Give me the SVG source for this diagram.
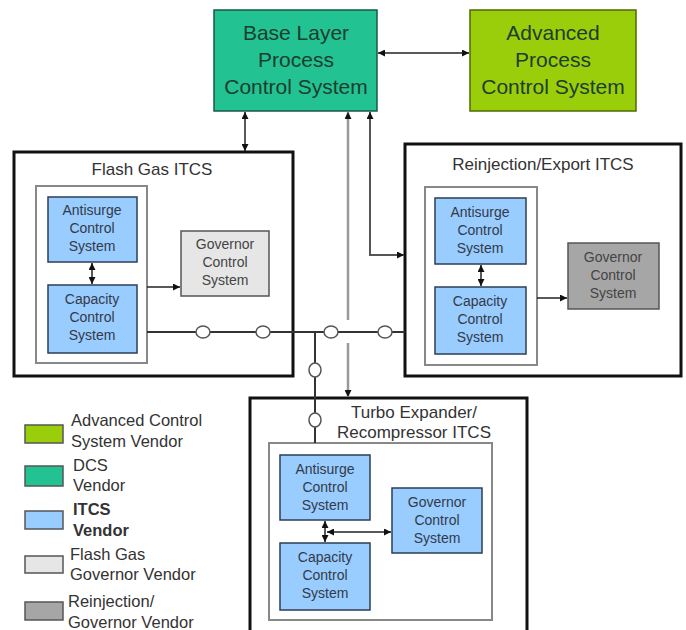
<svg xmlns="http://www.w3.org/2000/svg" width="686" height="630" viewBox="0 0 686 630">
<style>
text{font-family:"Liberation Sans",Arial,sans-serif;text-anchor:middle;fill:#2a2a2a}
.big{font-size:21px;fill:#1d3d2d}
.title{font-size:17px;fill:#333}
.sm{font-size:14px;fill:#333a48}
.leg{font-size:16.5px;text-anchor:start;fill:#333}
.outer{fill:#fff;stroke:#111;stroke-width:3}
.inner{fill:#fff;stroke:#888;stroke-width:2}
.blue{fill:#99ccff;stroke:#2c3e55;stroke-width:1.5}
.ln{fill:none;stroke:#222;stroke-width:1.5}
.bus{fill:none;stroke:#333;stroke-width:2}
.circ{fill:#fff;stroke:#555;stroke-width:1.5}
.sw{stroke:#555;stroke-width:1.5}
</style>
<defs>
<marker id="ah" viewBox="0 0 10 10" refX="10" refY="5" markerWidth="7" markerHeight="7" markerUnits="userSpaceOnUse" orient="auto-start-reverse">
<path d="M0,0 L10,5 L0,10 z" fill="#111"/>
</marker>
</defs>

<g id="base-layer">
<rect x="214" y="10" width="163" height="101" fill="#22c293" stroke="#1a5a44" stroke-width="1.5"/>
<text class="big" x="296" y="40">Base Layer</text>
<text class="big" x="296" y="67">Process</text>
<text class="big" x="296" y="94">Control System</text>
</g>
<g id="advanced">
<rect x="470" y="10" width="166" height="101" fill="#9acd0a" stroke="#4f6a05" stroke-width="1.5"/>
<text class="big" x="553" y="40">Advanced</text>
<text class="big" x="553" y="67">Process</text>
<text class="big" x="553" y="94">Control System</text>
</g>

<g id="flash-gas-itcs">
<rect class="outer" x="14" y="152" width="279" height="224"/>
<text class="title" x="152" y="175">Flash Gas ITCS</text>
<rect class="inner" x="36" y="186" width="111" height="177"/>
<g id="fg-antisurge">
<rect class="blue" x="48" y="197" width="89" height="65"/>
<text class="sm" x="92" y="215">Antisurge</text>
<text class="sm" x="92" y="233">Control</text>
<text class="sm" x="92" y="251">System</text>
</g>
<g id="fg-capacity">
<rect class="blue" x="48" y="285" width="89" height="68"/>
<text class="sm" x="92" y="304">Capacity</text>
<text class="sm" x="92" y="322">Control</text>
<text class="sm" x="92" y="340">System</text>
</g>
<g id="fg-governor">
<rect x="181" y="231" width="88" height="65" fill="#e6e6e6" stroke="#555" stroke-width="1.5"/>
<text class="sm" x="225" y="249" style="fill:#444">Governor</text>
<text class="sm" x="225" y="267" style="fill:#444">Control</text>
<text class="sm" x="225" y="285" style="fill:#444">System</text>
</g>
</g>

<g id="reinjection-itcs">
<rect class="outer" x="405" y="144" width="276" height="232"/>
<text class="title" x="543" y="170">Reinjection/Export ITCS</text>
<rect class="inner" x="425" y="187" width="112" height="178"/>
<g id="re-antisurge">
<rect class="blue" x="435" y="198" width="91" height="66"/>
<text class="sm" x="480" y="217">Antisurge</text>
<text class="sm" x="480" y="235">Control</text>
<text class="sm" x="480" y="253">System</text>
</g>
<g id="re-capacity">
<rect class="blue" x="435" y="287" width="91" height="67"/>
<text class="sm" x="480" y="306">Capacity</text>
<text class="sm" x="480" y="324">Control</text>
<text class="sm" x="480" y="342">System</text>
</g>
<g id="re-governor">
<rect x="568" y="243" width="91" height="66" fill="#a6a6a6" stroke="#555" stroke-width="1.5"/>
<text class="sm" x="613" y="262" style="fill:#444">Governor</text>
<text class="sm" x="613" y="280" style="fill:#444">Control</text>
<text class="sm" x="613" y="298" style="fill:#444">System</text>
</g>
</g>

<g id="turbo-itcs">
<rect class="outer" x="250" y="398" width="277" height="245"/>
<text class="title" x="414" y="418">Turbo Expander/</text>
<text class="title" x="414" y="438">Recompressor ITCS</text>
<rect class="inner" x="269" y="443" width="223" height="177"/>
<g id="te-antisurge">
<rect class="blue" x="280" y="455" width="90" height="65"/>
<text class="sm" x="325" y="474">Antisurge</text>
<text class="sm" x="325" y="492">Control</text>
<text class="sm" x="325" y="510">System</text>
</g>
<g id="te-capacity">
<rect class="blue" x="280" y="543" width="90" height="67"/>
<text class="sm" x="325" y="562">Capacity</text>
<text class="sm" x="325" y="580">Control</text>
<text class="sm" x="325" y="598">System</text>
</g>
<g id="te-governor">
<rect class="blue" x="392" y="488" width="90" height="65"/>
<text class="sm" x="437" y="507">Governor</text>
<text class="sm" x="437" y="525">Control</text>
<text class="sm" x="437" y="543">System</text>
</g>
</g>

<g id="connectors">
<line class="ln" x1="378" y1="53" x2="469" y2="53" marker-start="url(#ah)" marker-end="url(#ah)"/>
<line class="ln" x1="245" y1="112" x2="245" y2="151" marker-start="url(#ah)" marker-end="url(#ah)"/>
<line x1="348" y1="112" x2="348" y2="320" stroke="#999" stroke-width="2.5" marker-start="url(#ah)"/>
<line x1="348" y1="343" x2="348" y2="397" stroke="#999" stroke-width="2.5" marker-end="url(#ah)"/>
<path d="M370,112 V255 H404" fill="none" stroke="#555" stroke-width="2" marker-start="url(#ah)" marker-end="url(#ah)"/>
<line class="ln" x1="92" y1="263" x2="92" y2="284" marker-start="url(#ah)" marker-end="url(#ah)"/>
<line class="ln" x1="147" y1="287" x2="180" y2="287" marker-end="url(#ah)"/>
<line class="ln" x1="481" y1="265" x2="481" y2="286" marker-start="url(#ah)" marker-end="url(#ah)"/>
<line class="ln" x1="537" y1="298" x2="567" y2="298" marker-end="url(#ah)"/>
<line class="ln" x1="325" y1="521" x2="325" y2="542" marker-start="url(#ah)" marker-end="url(#ah)"/>
<line class="ln" x1="327" y1="532" x2="391" y2="532" marker-start="url(#ah)" marker-end="url(#ah)"/>
<line class="bus" x1="147" y1="332" x2="405" y2="332"/>
<line class="bus" x1="315" y1="332" x2="315" y2="443"/>
<ellipse class="circ" cx="203" cy="332" rx="7" ry="6"/>
<ellipse class="circ" cx="263" cy="332" rx="7" ry="6"/>
<ellipse class="circ" cx="331" cy="332" rx="7" ry="6"/>
<ellipse class="circ" cx="385" cy="332" rx="7" ry="6"/>
<ellipse class="circ" cx="315" cy="370" rx="6" ry="7"/>
<ellipse class="circ" cx="315" cy="420" rx="6" ry="7"/>
</g>

<g id="legend">
<rect class="sw" x="25" y="425" width="38" height="18" fill="#9acd0a"/>
<text class="leg" x="71" y="426">Advanced Control</text>
<text class="leg" x="71" y="447">System Vendor</text>
<rect class="sw" x="25" y="466" width="38" height="20" fill="#22c293"/>
<text class="leg" x="73" y="471">DCS</text>
<text class="leg" x="73" y="491">Vendor</text>
<rect class="sw" x="25" y="511" width="38" height="18" fill="#99ccff"/>
<text class="leg" x="73" y="515" font-weight="bold">ITCS</text>
<text class="leg" x="73" y="536" font-weight="bold">Vendor</text>
<rect class="sw" x="25" y="556" width="38" height="17" fill="#e6e6e6"/>
<text class="leg" x="70" y="560">Flash Gas</text>
<text class="leg" x="70" y="580">Governor Vendor</text>
<rect class="sw" x="25" y="602" width="38" height="18" fill="#a6a6a6"/>
<text class="leg" x="68" y="607">Reinjection/</text>
<text class="leg" x="68" y="628">Governor Vendor</text>
</g>
</svg>
